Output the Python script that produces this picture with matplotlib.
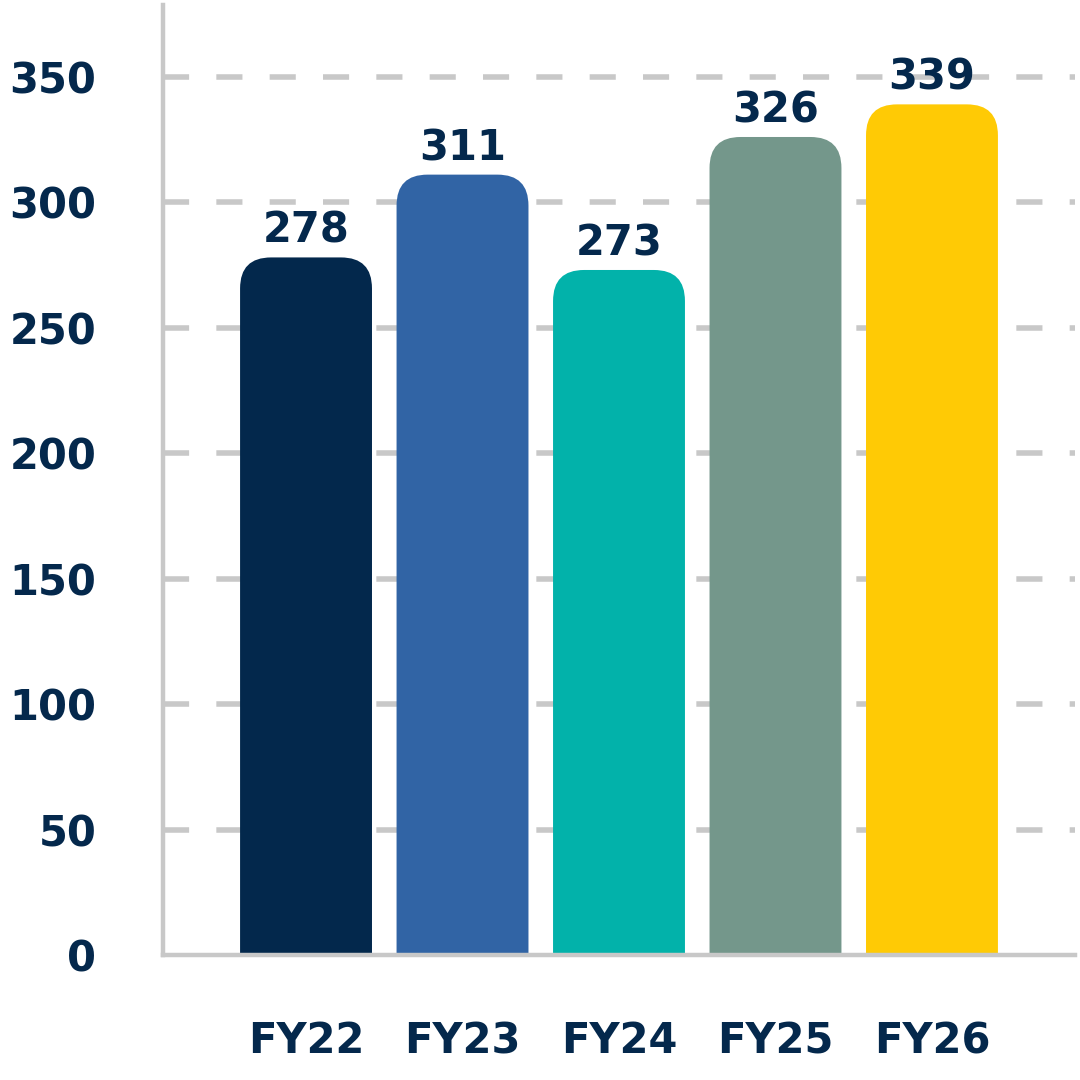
import matplotlib.pyplot as plt
from matplotlib.patches import FancyBboxPatch

years = ['FY22', 'FY23', 'FY24', 'FY25', 'FY26']
values = [278, 311, 273, 326, 339]
colors = ['#03284C', '#3164A5', '#02B2AA', '#74978B', '#FFCA05']
yticks = [0, 50, 100, 150, 200, 250, 300, 350]

text_color = '#04284C'
grid_color = '#C8C8C8'

plt.rcParams['font.family'] = ['DejaVu Sans']
plt.rcParams['font.weight'] = 'bold'

fig = plt.figure(figsize=(10.8, 10.8), dpi=100)
ax = fig.add_axes([163 / 1080, 1 - 955 / 1080, 912 / 1080, 950 / 1080])

xlim = (-0.914, 4.914)
ylim = (0, 378.6)
ax.set_xlim(xlim)
ax.set_ylim(ylim)

# axes size in px to work out the corner radius in data units
ax_w_px = 912
ax_h_px = 950
x_per_px = (xlim[1] - xlim[0]) / ax_w_px
y_per_px = (ylim[1] - ylim[0]) / ax_h_px
radius_px = 31
bar_w = 0.843

for i, (v, c) in enumerate(zip(values, colors)):
    r = radius_px * x_per_px
    patch = FancyBboxPatch((i - bar_w / 2, -40), bar_w, v + 40,
                           boxstyle=f"round,pad=0,rounding_size={r}",
                           mutation_aspect=y_per_px / x_per_px,
                           facecolor=c, edgecolor='none', zorder=3)
    ax.add_patch(patch)
    ax.annotate(str(v), (i, v), xytext=(0, 4), textcoords='offset points',
                ha='center', va='bottom', fontsize=30, fontweight='bold',
                color=text_color, zorder=4)

# dashed grid
for t in yticks[1:]:
    ax.axhline(t, color=grid_color, lw=4, linestyle=(0, (4.7, 4.9)), zorder=1)

ax.set_xticks(range(len(years)))
ax.set_xticklabels(years)
ax.set_yticks(yticks)
ax.tick_params(axis='both', length=0, labelsize=30, labelcolor=text_color)
ax.tick_params(axis='x', pad=47)
ax.tick_params(axis='y', pad=48)
for lab in ax.get_xticklabels() + ax.get_yticklabels():
    lab.set_fontweight('bold')

for s in ['top', 'right']:
    ax.spines[s].set_visible(False)
for s in ['left', 'bottom']:
    ax.spines[s].set_color(grid_color)
    ax.spines[s].set_linewidth(3.2)
    ax.spines[s].set_zorder(5)

plt.savefig('out.png', dpi=100)
